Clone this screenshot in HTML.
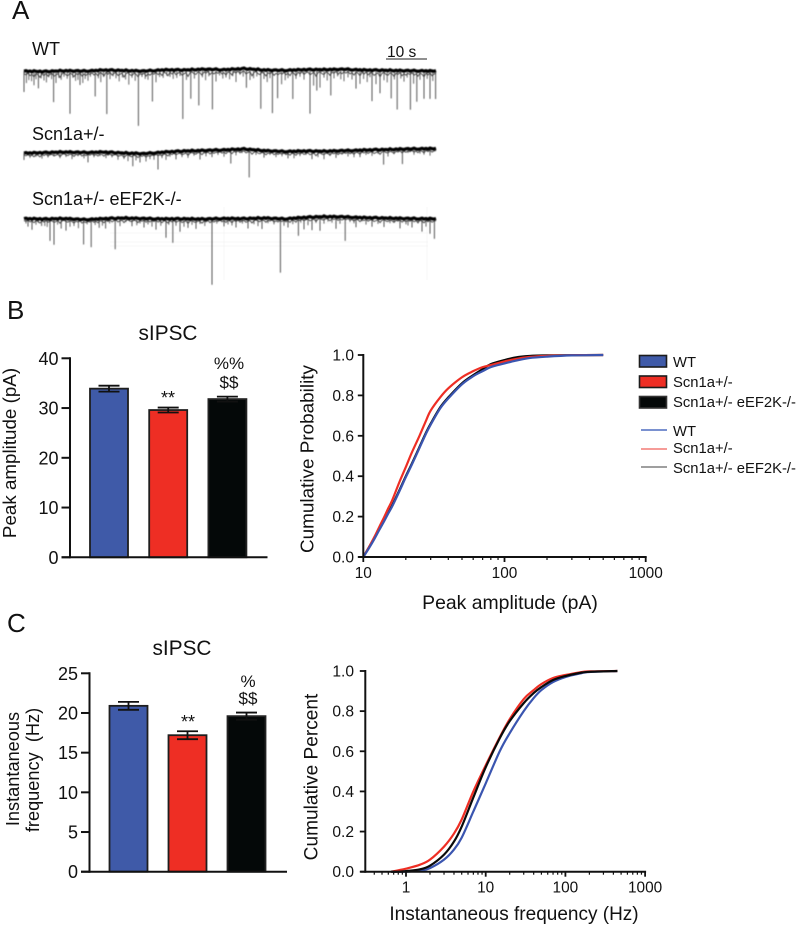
<!DOCTYPE html>
<html lang="en">
<head>
<meta charset="utf-8">
<title>sIPSC recordings and cumulative distributions</title>
<style>
html,body{margin:0;padding:0;background:#fff;}
svg{display:block;}
text{font-family:"Liberation Sans",Arial,sans-serif;fill:#111;}
</style>
</head>
<body>
<svg id="fig" width="797" height="926" viewBox="0 0 797 926" xmlns="http://www.w3.org/2000/svg">
<defs><filter id="soft" x="-5%" y="-5%" width="110%" height="110%"><feGaussianBlur stdDeviation="0.4"/></filter></defs>
<rect width="797" height="926" fill="#fff"/>

<text x="12" y="19" font-size="26">A</text>
<text x="7" y="319" font-size="26">B</text>
<text x="7" y="632" font-size="26">C</text>

<g font-size="18">
<text x="32" y="55">WT</text>
<text x="32" y="140">Scn1a+/-</text>
<text x="32" y="205">Scn1a+/- eEF2K-/-</text>
</g>
<text x="387" y="57" font-size="15.5">10 s</text>
<line x1="386" y1="59" x2="427" y2="59" stroke="#222" stroke-width="1"/>

<g stroke="#f4f4f4" stroke-width="0.7">
<line x1="110" y1="223" x2="428" y2="223"/>
<line x1="110" y1="233" x2="428" y2="233"/>
<line x1="110" y1="242" x2="428" y2="242"/>
<line x1="110" y1="246" x2="428" y2="246"/>
<line x1="224" y1="207" x2="224" y2="280"/>
<line x1="427" y1="207" x2="427" y2="280"/>
</g>
<g id="traces" filter="url(#soft)"></g>

<g id="barB"></g>
<g id="barC"></g>
<g id="cumB"></g>
<g id="cumC"></g>

<text x="168" y="340" font-size="20.8" text-anchor="middle">sIPSC</text>
<text transform="translate(16,453) rotate(-90)" font-size="18.8" text-anchor="middle">Peak amplitude (pA)</text>
<text x="168" y="404" font-size="18" text-anchor="middle">**</text>
<text x="229" y="369" font-size="17" text-anchor="middle">%%</text>
<text x="229" y="388" font-size="17" text-anchor="middle">$$</text>

<text x="182" y="655" font-size="20.8" text-anchor="middle">sIPSC</text>
<text transform="translate(19,769) rotate(-90)" font-size="18.2" text-anchor="middle">Instantaneous</text>
<text transform="translate(39,770) rotate(-90)" font-size="18.2" text-anchor="middle" xml:space="preserve">frequency  (Hz)</text>
<text x="188" y="728" font-size="18" text-anchor="middle">**</text>
<text x="248" y="687" font-size="17" text-anchor="middle">%</text>
<text x="248" y="704" font-size="17" text-anchor="middle">$$</text>

<text transform="translate(313.5,459) rotate(-90)" font-size="18.9" text-anchor="middle">Cumulative Probability</text>
<text x="510" y="609" font-size="19.4" text-anchor="middle">Peak amplitude (pA)</text>
<text transform="translate(317.5,777) rotate(-90)" font-size="19.1" text-anchor="middle">Cumulative Percent</text>
<text x="514" y="920" font-size="19" text-anchor="middle">Instantaneous frequency (Hz)</text>

<g font-size="14.8">
<g><rect x="639.5" y="355.5" width="27" height="11.5" fill="#3f5aa8" stroke="#1c1c1c" stroke-width="1.6"/><text x="673" y="367">WT</text></g>
<g><rect x="639.5" y="376" width="27" height="11.5" fill="#ee2e24" stroke="#1c1c1c" stroke-width="1.6"/><text x="673" y="387">Scn1a+/-</text></g>
<g><rect x="639.5" y="396.5" width="27" height="11.5" fill="#040808" stroke="#333" stroke-width="1.6"/><text x="673" y="407">Scn1a+/- eEF2K-/-</text></g>
<g><line x1="641" y1="430" x2="667" y2="430" stroke="#2a4fb5" stroke-width="1.3"/><text x="673" y="436">WT</text></g>
<g><line x1="641" y1="449" x2="667" y2="449" stroke="#ee3a30" stroke-width="1"/><text x="673" y="453">Scn1a+/-</text></g>
<g><line x1="641" y1="467" x2="667" y2="467" stroke="#666" stroke-width="1.3"/><text x="673" y="473">Scn1a+/- eEF2K-/-</text></g>
</g>

<script>
// ---------- Panel A: traces (seconds, arbitrary current units) ----------
const baseTimes = [0,5,10,15,20,25,30,35,40,45,50,55,60,65,70,75,80,85,90,95,100,103];
const wtBaseline = [71,71.5,70.7,71,70,70.5,71,69.8,70,69.2,69.6,68.6,70,70.3,69.6,69.6,69.2,70,70.3,70.6,70.8,71];
const scnBaseline = [153,152.6,152,152.4,152,153,153.6,152,151,150.4,149.8,149,150.6,151.4,151,151.2,150.6,150,149.6,149,148.6,148.6];
const dkoBaseline = [218.5,219,218.5,219.5,218.6,218,218.5,218.8,218.8,219,218.4,218.6,218,218.8,217.4,216.6,216.8,217.6,218,218.4,218.6,218.8];
const noiseCycle = [0.3,-0.5,0.6,-0.2,0.8,-0.7,0.1,0.5,-0.4,0.9,-0.3,-0.8,0.4,0.7,-0.6,0.2,-0.1,0.6,-0.9,0.3,0.7,-0.4,0.5,-0.7,0.2,0.8,-0.2,-0.5,0.6,0.1,-0.8,0.4,0.9];
const fuzzCycle = [2.5,4,1.5,5,3,6.5,2,3.5,7,2,4.5,1.5,5.5,3,2,6,4,2.5,8,3,1.5,4.5,5.5,2,3.5,7,2.5,4,1.5,6,3,5];

const wtBigTimes = [0,3.6,7.4,11.5,14,17.8,20.7,28.6,32.1,39.7,41.7,43.7,47.1,55.6,59.2,62.1,63.4,67.2,71.5,73.2,76.7,83,87,89,91.8,93.3,96.6,98.2,100,101.5,102.9];
const wtBigAmps = [21,17,31,43,14,26,44,55,31,49,29,36,40,19,39,43,28,29,44,21,26,19,31,23,28,39,39,31,28,28,28];
const wtSmallTimes = [0.6,1.2,1.9,2.5,3,4.3,5,5.6,6.2,6.9,8,8.7,9.3,10,10.8,12.2,12.9,13.5,14.7,15.3,16,16.6,18.6,19.2,19.9,21.5,22.3,23,23.8,24.6,25.4,26.2,27,27.8,29.5,30.3,31,33,33.9,34.8,35.7,36.5,37.3,38.2,39,40.6,42.6,44.6,45.4,46.2,48,48.9,49.7,50.5,51.4,52.2,53,54,54.8,56.5,57.4,58.2,60,60.8,61.5,64.4,65.3,66,68,69,70,72.4,74,75,75.8,77.5,78.4,79.2,80,81,82,84,84.9,85.8,86.5,88,90,90.8,92.6,94.2,95,95.8,97.4,99,100.8,102.2];
const wtSmallAmps = [12,9,10,14,8,7,9,11,6,8,12,7,9,6,8,7,10,9,12,8,10,6,8,12,7,9,6,8,11,7,9,14,7,10,6,8,9,12,7,8,6,7,9,8,6,10,9,8,11,7,12,6,9,8,10,7,13,6,8,11,9,7,9,12,8,14,10,8,9,7,10,16,18,8,11,9,7,10,12,8,10,14,9,12,7,14,10,12,9,8,11,7,13,9,8,10,12];

const scnBigTimes = [0,16,27.2,29,33.5,38,44,47,51.7,56.3,60,66,72,78,84,89.9,94.6,100];
const scnBigAmps = [7,10,13,9,17,8,9,7,14,28,7,7,8,7,7,15,15,6];
const scnSmallTimes = [1.5,3,4.5,6,7.5,9,10.5,12,13.5,15,17.5,19,20.5,22,23.5,25,26,28,30.5,31.5,32.5,34.5,35.5,36.5,39.5,41,42.5,45.5,48.5,50,53,54.5,58,61.5,63,64.5,67.5,69,70.5,73.5,75,76.5,79.5,81,82.5,85.5,87,88.5,91,92.5,96,97.5,99,101.5];
const scnSmallAmps = [5,4,6,5,4,6,5,7,4,6,5,4,6,5,7,6,8,7,8,6,7,6,8,5,6,7,5,6,5,7,6,4,5,4,6,5,7,5,4,6,8,5,4,6,7,5,6,4,7,5,4,6,5,7];

const dkoBigTimes = [1,2,4.4,6.5,7.5,9.3,10.5,14.9,16.8,18.8,20.4,22.8,27,30,33,35.5,37.2,39,41,43,47,50,53,56,59.5,64.1,66,68.6,70,72,74,78,80.3,83,87,90,94,97,99.5,101.5,102.6];
const dkoBigAmps = [8,11,7,22,26,10,12,25,28,9,10,31,8,9,11,19,24,13,9,10,66,8,9,10,11,54,9,18,12,13,14,12,24,10,9,9,10,9,13,15,20];
const dkoSmallTimes = [0.5,3,3.6,5.2,5.8,8.4,11.5,12.5,13.6,15.8,17.8,19.6,21.4,24,25.5,28.2,29,31,32,34.2,36.2,38,40,42,44,45.2,48.2,51,52,54.6,57.5,58.5,61,62.5,65,67.2,69.2,71,73,75,76,77,79,81.5,82.5,84.5,85.5,88.5,91.5,92.5,95.5,96,98.5,100.5];
const dkoSmallAmps = [5,6,4,7,8,6,8,7,9,5,6,7,5,8,4,7,5,6,8,7,6,7,8,6,5,7,5,6,7,5,6,8,5,6,7,6,5,8,6,7,5,6,7,5,6,4,7,6,5,4,6,7,5,8];

// ---------- Panel B & C: bars ----------
const barGroups = ['WT','Scn1a+/-','Scn1a+/- eEF2K-/-'];
const barColors = ['#3f5aa8','#ee2e24','#040808'];
const peakMeans = [33.9,29.6,31.8];
const peakErrors = [0.6,0.5,0.5];
const peakTicks = [0,10,20,30,40];
const freqMeans = [20.9,17.2,19.6];
const freqErrors = [0.5,0.5,0.45];
const freqTicks = [0,5,10,15,20,25];

// ---------- Panel B: cumulative peak amplitude ----------
const ampX = [10,11,12,13,14,15,16,18,20,22,25,28,30,35,40,50,60,70,80,100,120,150,200,300,500];
const ampWT = [0,.045,.09,.135,.175,.215,.25,.325,.395,.455,.54,.615,.655,.735,.785,.855,.895,.92,.94,.958,.972,.985,.992,.998,1];
const ampScn = [0,.05,.1,.15,.195,.24,.28,.37,.445,.515,.6,.68,.725,.79,.835,.89,.92,.94,.95,.968,.98,.99,.996,.999,1];
const ampDko = [0,.05,.097,.14,.18,.218,.255,.33,.4,.46,.545,.62,.66,.74,.79,.86,.9,.93,.955,.975,.988,.995,.998,.999,1];
const probTicks = [0,.2,.4,.6,.8,1];
const ampMajor = [10,100,1000];
const ampMinor = [20,30,40,50,60,70,80,90,200,300,400,500,600,700,800,900];

// ---------- Panel C: cumulative frequency ----------
const freqX = [.65,.8,1,1.5,2,3,4,5,7,10,15,20,30,40,50,70,100,150,200,450];
const freqWT = [0,0,0,.005,.018,.06,.11,.17,.3,.44,.6,.69,.8,.865,.905,.945,.97,.987,.995,1];
const freqScn = [0,.007,.015,.035,.06,.125,.19,.26,.4,.53,.67,.76,.86,.905,.935,.965,.98,.993,.998,1];
const freqDko = [0,0,.003,.012,.03,.085,.15,.225,.37,.52,.665,.75,.84,.89,.92,.955,.975,.99,.996,1];
const freqMajor = [1,10,100,1000];
const freqMinor = [.4,.5,.6,.7,.8,.9,2,3,4,5,6,7,8,9,20,30,40,50,60,70,80,90,200,300,400,500,600,700,800,900];

const NS = 'http://www.w3.org/2000/svg';
function mk(parent, tag, attrs, txt){
  const el = document.createElementNS(NS, tag);
  for (const k in attrs) el.setAttribute(k, attrs[k]);
  if (txt !== undefined) el.textContent = txt;
  parent.appendChild(el);
  return el;
}

// trace drawing
const timeX = t => 24 + t * 4;
function baseAt(arr, t){
  let i = 0;
  while (i < baseTimes.length - 2 && baseTimes[i + 1] < t) i++;
  const f = (t - baseTimes[i]) / (baseTimes[i + 1] - baseTimes[i]);
  return arr[i] + (arr[i + 1] - arr[i]) * f;
}
function drawTrace(name, base, bigT, bigA, smallT, smallA, fuzzScale){
  const g = mk(document.getElementById('traces'), 'g', {});
  
  
  bigT.forEach((t, i) => {
    const y = baseAt(base, t);
    const s = mk(g, 'line', {x1: timeX(t), x2: timeX(t), y1: y, y2: y + bigA[i], stroke: '#555', 'stroke-width': 1});
    
    
  });
  smallT.forEach((t, i) => {
    const y = baseAt(base, t);
    const s = mk(g, 'line', {x1: timeX(t), x2: timeX(t), y1: y, y2: y + smallA[i], stroke: '#666', 'stroke-width': 1});
    
    
  });
  const fuzzPts = [];
  const linePts = [];
  for (let k = 0; k <= 206; k++) {
    const t = k / 2;
    const y = baseAt(base, t);
    fuzzPts.push(timeX(t) + ',' + (y + 1 + fuzzCycle[k % fuzzCycle.length] * fuzzScale).toFixed(2));
    linePts.push(timeX(t) + ',' + (y + noiseCycle[k % noiseCycle.length] * 0.7).toFixed(2));
  }
  const fuzz = mk(g, 'polyline', {points: fuzzPts.join(' '), fill: 'none', stroke: '#3a3a3a', 'stroke-width': 0.9});
  
  
  const line = mk(g, 'polyline', {points: linePts.join(' '), fill: 'none', stroke: '#000', 'stroke-width': 3.2});
  
  
}
drawTrace('trace-wt', wtBaseline, wtBigTimes, wtBigAmps, wtSmallTimes, wtSmallAmps, 0.7);
drawTrace('trace-scn1a', scnBaseline, scnBigTimes, scnBigAmps, scnSmallTimes, scnSmallAmps, 0.45);
drawTrace('trace-scn1a-eef2k', dkoBaseline, dkoBigTimes, dkoBigAmps, dkoSmallTimes, dkoSmallAmps, 0.45);

// bar chart drawing
function drawBars(id, o){
  const root = document.getElementById(id);
  const yS = v => o.y0 + (o.y1 - o.y0) * v / o.max;
  const barW = 38;
  o.means.forEach((m, i) => {
    const left = o.firstBar + i * o.step;
    const cx = left + barW / 2;
    const r = mk(root, 'rect', {x: left, y: yS(m), width: barW, height: o.y0 - yS(m), fill: barColors[i], stroke: i === 2 ? '#222' : '#1e1e1e', 'stroke-width': 1.8});
    
    
    const top = yS(m + o.errs[i]);
    const low = yS(m - o.errs[i]);
    const stem = mk(root, 'line', {x1: cx, x2: cx, y1: top, y2: low, stroke: '#111', 'stroke-width': 1.8});
    
    
    const cap = mk(root, 'line', {x1: cx - 10.5, x2: cx + 10.5, y1: top, y2: top, stroke: '#111', 'stroke-width': 1.8});
    
    
    const cap2 = mk(root, 'line', {x1: cx - 10.5, x2: cx + 10.5, y1: low, y2: low, stroke: '#111', 'stroke-width': 1.8});
    
    
  });
  const ya = mk(root, 'line', {x1: o.ax, x2: o.ax, y1: o.y0 + 1, y2: o.y1 - 1, stroke: '#111', 'stroke-width': 2});
  
  
  const xa = mk(root, 'line', {x1: o.ax - 8.5, x2: o.xEnd, y1: o.y0, y2: o.y0, stroke: '#111', 'stroke-width': 2});
  
  
  o.ticks.forEach(v => {
    const y = yS(v);
    const t = mk(root, 'line', {x1: o.ax - 8.5, x2: o.ax, y1: y, y2: y, stroke: '#111', 'stroke-width': 2});
    
    
    const l = mk(root, 'text', {x: o.ax - 11.5, y: y + 6.5, 'font-size': 18, 'text-anchor': 'end'}, String(v));
    
    
  });
}
drawBars('barB', {means: peakMeans, errs: peakErrors, ticks: peakTicks, max: 40, y0: 557.3, y1: 358.3, ax: 70, xEnd: 267.5, firstBar: 90, step: 59.2});
drawBars('barC', {means: freqMeans, errs: freqErrors, ticks: freqTicks, max: 25, y0: 871.7, y1: 673.3, ax: 89.5, xEnd: 287, firstBar: 109.5, step: 59});

// cumulative chart drawing: Catmull-Rom smoothing between read values
function smoothPath(pts){
  let d = 'M' + pts[0][0].toFixed(2) + ' ' + pts[0][1].toFixed(2);
  for (let i = 0; i < pts.length - 1; i++) {
    const p0 = pts[Math.max(i - 1, 0)];
    const p1 = pts[i];
    const p2 = pts[i + 1];
    const p3 = pts[Math.min(i + 2, pts.length - 1)];
    const c1x = p1[0] + (p2[0] - p0[0]) / 6;
    const c1y = p1[1] + (p2[1] - p0[1]) / 6;
    const c2x = p2[0] - (p3[0] - p1[0]) / 6;
    const c2y = p2[1] - (p3[1] - p1[1]) / 6;
    d += 'C' + c1x.toFixed(2) + ' ' + c1y.toFixed(2) + ' ' + c2x.toFixed(2) + ' ' + c2y.toFixed(2) + ' ' + p2[0].toFixed(2) + ' ' + p2[1].toFixed(2);
  }
  return d;
}
function drawCum(id, o){
  const root = document.getElementById(id);
  const xS = v => o.xRef + (Math.log10(v) - o.refLog) * o.decade;
  const yS = v => o.y0 + (o.y1 - o.y0) * v;
  o.series.forEach(s => {
    const p = mk(root, 'path', {d: smoothPath(o.xs.map((x, i) => [xS(x), yS(s.v[i])])), fill: 'none', stroke: s.c, 'stroke-width': 2.2, 'stroke-linejoin': 'round'});
    
    
  });
  const ya = mk(root, 'line', {x1: o.ax, x2: o.ax, y1: o.y0 + 1, y2: o.y1 - 1, stroke: '#111', 'stroke-width': 2});
  
  
  const xa = mk(root, 'line', {x1: o.ax - 5, x2: xS(1000) + 1, y1: o.y0, y2: o.y0, stroke: '#111', 'stroke-width': 2});
  
  
  probTicks.forEach(v => {
    const y = yS(v);
    const t = mk(root, 'line', {x1: o.ax - 5.5, x2: o.ax, y1: y, y2: y, stroke: '#111', 'stroke-width': 1.8});
    
    
    const l = mk(root, 'text', {x: 354, y: y + 5.5, 'font-size': 15.6, 'text-anchor': 'end'}, v.toFixed(1));
    
    
  });
  o.major.forEach(v => {
    const t = mk(root, 'line', {x1: xS(v), x2: xS(v), y1: o.y0, y2: o.y0 + 5, stroke: '#111', 'stroke-width': 1.8});
    
    
    const l = mk(root, 'text', {x: xS(v), y: o.labelY, 'font-size': 15.4, 'text-anchor': 'middle'}, String(v));
    
    
  });
  o.minor.forEach(v => {
    const t = mk(root, 'line', {x1: xS(v), x2: xS(v), y1: o.y0, y2: o.y0 + 3, stroke: '#111', 'stroke-width': 1.2});
    
    
  });
}
drawCum('cumB', {xs: ampX, xRef: 363.3, refLog: 1, decade: 141.2, ax: 363.3, y0: 557, y1: 355, labelY: 578, major: ampMajor, minor: ampMinor,
  series: [{n: 'curve-scn1a-eef2k', c: '#0a0a0a', v: ampDko}, {n: 'curve-scn1a', c: '#ee2e24', v: ampScn}, {n: 'curve-wt', c: '#3a55b0', v: ampWT}]});
drawCum('cumC', {xs: freqX, xRef: 406, refLog: 0, decade: 79.7, ax: 365.3, y0: 871.7, y1: 671, labelY: 892.7, major: freqMajor, minor: freqMinor,
  series: [{n: 'curve-wt', c: '#3a55b0', v: freqWT}, {n: 'curve-scn1a', c: '#ee2e24', v: freqScn}, {n: 'curve-scn1a-eef2k', c: '#0a0a0a', v: freqDko}]});
</script>
</svg>
</body>
</html>
